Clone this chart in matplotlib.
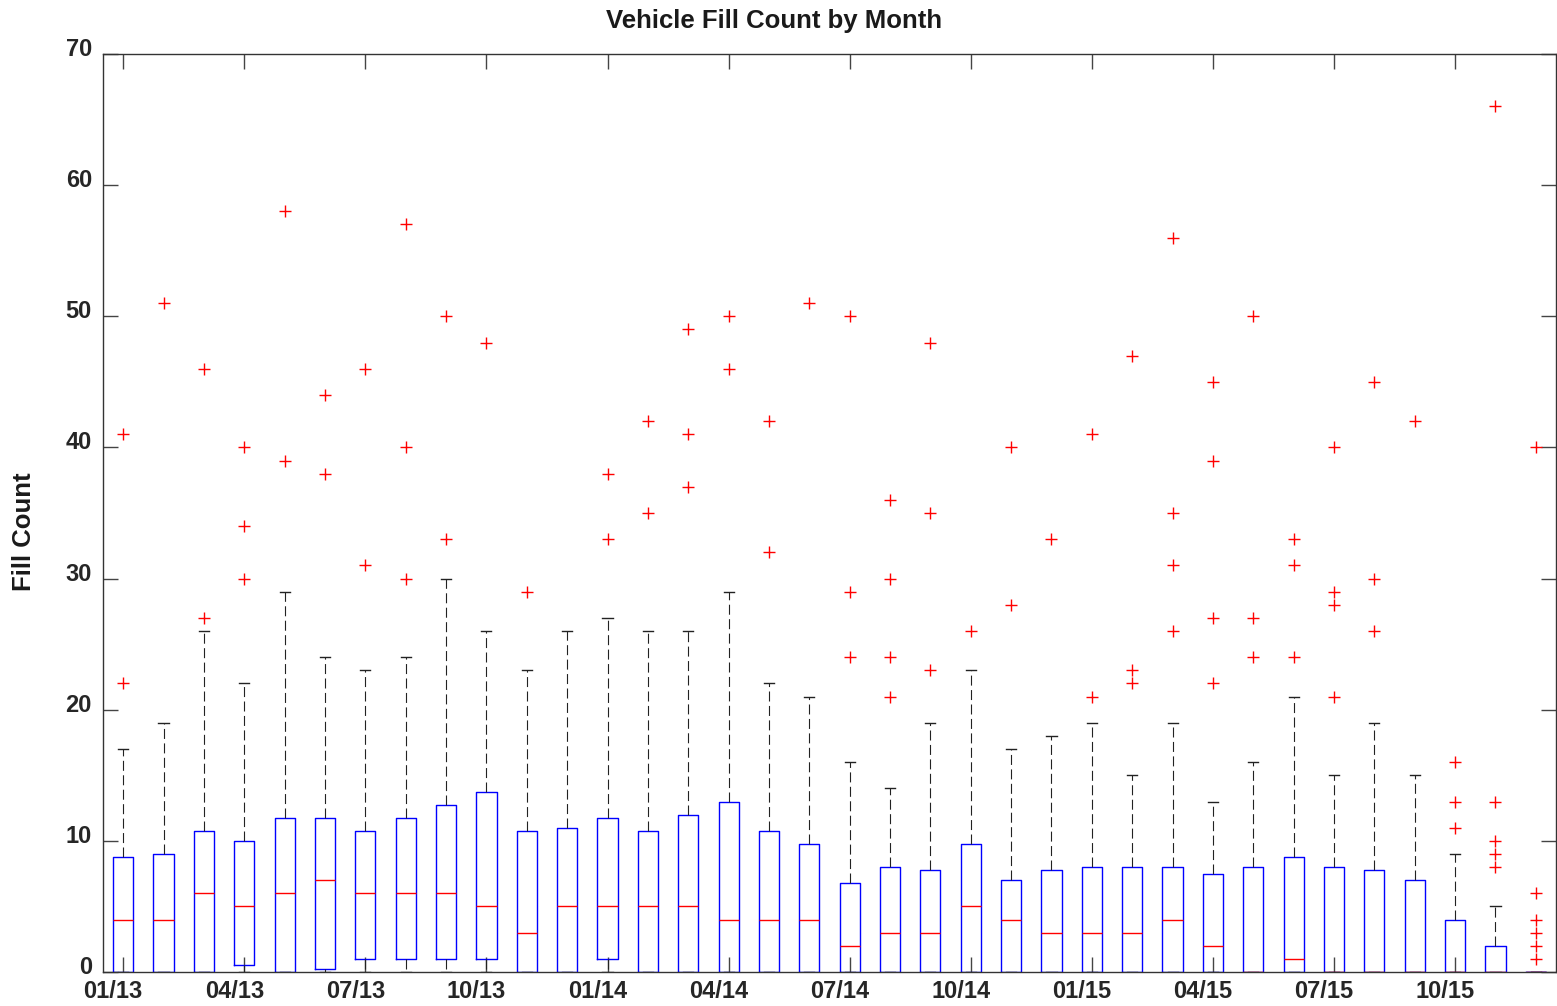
import numpy as np
import matplotlib.pyplot as plt
from matplotlib.transforms import ScaledTranslation

plt.rcParams['font.family'] = ['Liberation Sans', 'DejaVu Sans']

# monthly fill-count summaries, Jan 2013 .. Dec 2015
q1 = [0, 0, 0, 0.5, 0, 0.25, 1, 1, 1, 1, 0, 0,
      1, 0, 0, 0, 0, 0, 0, 0, 0, 0, 0, 0,
      0, 0, 0, 0, 0, 0, 0, 0, 0, 0, 0, 0]
med = [4, 4, 6, 5, 6, 7, 6, 6, 6, 5, 3, 5,
       5, 5, 5, 4, 4, 4, 2, 3, 3, 5, 4, 3,
       3, 3, 4, 2, 0, 1, 0, 0, 0, 0, 0, 0]
q3 = [8.75, 9, 10.75, 10, 11.75, 11.75, 10.75, 11.75, 12.75, 13.75, 10.75, 11,
      11.75, 10.75, 12, 13, 10.75, 9.75, 6.75, 8, 7.75, 9.75, 7, 7.75,
      8, 8, 8, 7.5, 8, 8.75, 8, 7.75, 7, 4, 2, 0]
whis_hi = [17, 19, 26, 22, 29, 24, 23, 24, 30, 26, 23, 26,
           27, 26, 26, 29, 22, 21, 16, 14, 19, 23, 17, 18,
           19, 15, 19, 13, 16, 21, 15, 19, 15, 9, 5, 0]
outliers = [[22, 41], [51], [27, 46], [30, 34, 40], [39, 58], [38, 44],
            [31, 46], [30, 40, 57], [33, 50], [48], [29], [],
            [33, 38], [35, 42], [37, 41, 49], [46, 50], [32, 42], [51],
            [24, 29, 50], [21, 24, 30, 36], [23, 35, 48], [26], [28, 40], [33],
            [21, 41], [22, 23, 47], [26, 31, 35, 56], [22, 27, 39, 45], [24, 27, 50], [24, 31, 33],
            [21, 28, 29, 40], [26, 30, 45], [42], [11, 13, 16], [8, 9, 10, 13, 66], [1, 2, 3, 4, 6, 40]]

tick_pos = [1, 4, 7, 10, 13, 16, 19, 22, 25, 28, 31, 34]
tick_labels = ['01/13', '04/13', '07/13', '10/13', '01/14', '04/14',
               '07/14', '10/14', '01/15', '04/15', '07/15', '10/15']

stats = []
for i in range(len(med)):
    stats.append({'med': med[i], 'q1': q1[i], 'q3': q3[i],
                  'whislo': 0, 'whishi': whis_hi[i],
                  'fliers': np.array(outliers[i], dtype=float)})

fig = plt.figure(figsize=(15.57, 10.06), dpi=100)
ax = fig.add_axes([103/1557, 1-972/1006, 1453/1557, 918/1006])

ax.bxp(stats, positions=np.arange(1, len(med)+1), widths=0.5, capwidths=0.25,
       boxprops=dict(color='#0000ff', linewidth=1.0),
       medianprops=dict(color='#ff0000', linewidth=1.0),
       whiskerprops=dict(color='#222222', linewidth=0.8, dashes=(9, 4)),
       capprops=dict(color='#222222', linewidth=1.0),
       flierprops=dict(marker='+', markeredgecolor='#ff0000', markersize=8,
                       markeredgewidth=1.0, linestyle='none'))

ax.set_xlim(0.5, 36.5)
ax.set_ylim(0, 70)
ax.set_xticks(tick_pos)
ax.set_xticklabels(tick_labels)
ax.set_yticks(range(0, 71, 10))

for s in ax.spines.values():
    s.set_color('#333333')
    s.set_linewidth(1.0)

ax.tick_params(direction='in', length=11, width=1, color='#444444',
               top=True, right=True, labelsize=17, labelcolor='#262626', pad=8)
for lab in ax.get_xticklabels() + ax.get_yticklabels():
    lab.set_fontweight('bold')
for lab in ax.get_xticklabels():
    lab.set_transform(lab.get_transform() + ScaledTranslation(-0.10, 0.03, fig.dpi_scale_trans))
for lab in ax.get_yticklabels():
    lab.set_transform(lab.get_transform() + ScaledTranslation(0, 0.07, fig.dpi_scale_trans))

fig.text(774/1557, 1-21/1006, 'Vehicle Fill Count by Month', ha='center', va='center',
         fontsize=18.5, fontweight='bold', color='#1a1a1a')
fig.text(24/1557, 1-532/1006, 'Fill Count', ha='center', va='center', rotation=90,
         fontsize=18.5, fontweight='bold', color='#1a1a1a')

fig.savefig('out.png', dpi=100)
